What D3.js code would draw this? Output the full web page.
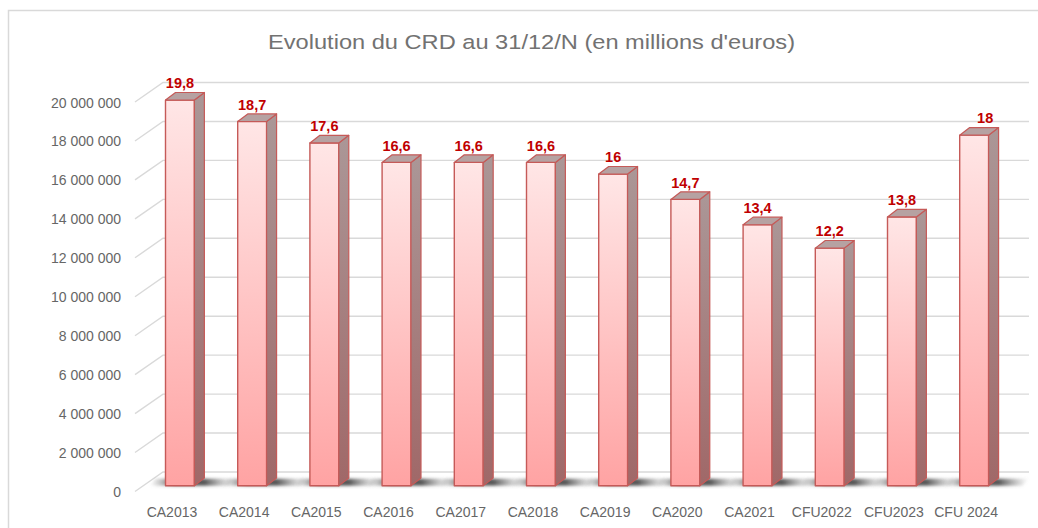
<!DOCTYPE html>
<html>
<head>
<meta charset="utf-8">
<script src="https://cdn.jsdelivr.net/npm/d3@7"></script>
<style>
  html, body { margin: 0; padding: 0; background: #ffffff; }
  svg { display: block; font-family: "Liberation Sans", Arial, sans-serif; }
</style>
</head>
<body>
<svg id="chart" width="1038" height="528"></svg>
<script>
// ---- Data ----
const categories = ["CA2013", "CA2014", "CA2015", "CA2016", "CA2017", "CA2018", "CA2019", "CA2020", "CA2021", "CFU2022", "CFU2023", "CFU 2024"];
const values = [19800000, 18700000, 17600000, 16600000, 16600000, 16600000, 16000000, 14700000, 13400000, 12200000, 13800000, 18000000];
const yTickValues = [0, 2000000, 4000000, 6000000, 8000000, 10000000, 12000000, 14000000, 16000000, 18000000, 20000000];
const titleText = "Evolution du CRD au 31/12/N (en millions d'euros)";

// ---- Setup ----
const W = 1038, H = 528;
const svg = d3.select("#chart");
const fr = d3.formatLocale({ decimal: ",", thousands: "\u00a0", grouping: [3], currency: ["", " €"] });
const fmtTick = fr.format(",.0f");
const fmtLabel = fr.format(".1~f");

// frame
svg.append("rect")
  .attr("x", 8.5).attr("y", 10.5)
  .attr("width", W + 10).attr("height", H + 10)
  .attr("fill", "none").attr("stroke", "#d9d9d9").attr("stroke-width", 1.5);

// title
svg.append("text")
  .attr("x", 531.5).attr("y", 49)
  .attr("text-anchor", "middle")
  .attr("font-size", 20.5)
  .attr("fill", "#727272")
  .attr("textLength", 527).attr("lengthAdjust", "spacingAndGlyphs")
  .text(titleText);

// scales
const y = d3.scaleLinear().domain([0, 20000000]).range([491.5, 102]);
const x = d3.scaleBand().domain(categories).range([143.84, 1010.24]).paddingInner(0.6).paddingOuter(0.3);

// 3D geometry
const wallDX = 28, wallDY = -19.5;   // front plane -> back wall
const barOffY = -5.8;               // bar front face relative to front plane
const depthDX = 10, depthDY = -7.6;  // bar depth
const frontX = 135, wallRight = 1029;

const defs = svg.append("defs");
const gFront = defs.append("linearGradient").attr("id", "gFront").attr("x1", 0).attr("y1", 0).attr("x2", 0).attr("y2", 1);
gFront.append("stop").attr("offset", "0%").attr("stop-color", "#ffe6e6");
gFront.append("stop").attr("offset", "100%").attr("stop-color", "#ffa3a3");
const gSide = defs.append("linearGradient").attr("id", "gSide").attr("x1", 0).attr("y1", 0).attr("x2", 0).attr("y2", 1);
gSide.append("stop").attr("offset", "0%").attr("stop-color", "#ab9797");
gSide.append("stop").attr("offset", "100%").attr("stop-color", "#a06868");
const gShadow = defs.append("linearGradient").attr("id", "gShadow").attr("x1", 0).attr("y1", 0).attr("x2", 1).attr("y2", 0);
gShadow.append("stop").attr("offset", "0%").attr("stop-color", "#808080").attr("stop-opacity", 0);
gShadow.append("stop").attr("offset", "30%").attr("stop-color", "#454545").attr("stop-opacity", 0.9);
gShadow.append("stop").attr("offset", "65%").attr("stop-color", "#454545").attr("stop-opacity", 0.9);
gShadow.append("stop").attr("offset", "100%").attr("stop-color", "#808080").attr("stop-opacity", 0);
const blur = defs.append("filter").attr("id", "blur").attr("x", "-20%").attr("y", "-50%").attr("width", "140%").attr("height", "200%");
blur.append("feGaussianBlur").attr("stdDeviation", 1.5);

// gridlines (side diagonals + back wall)
const grid = svg.append("g").attr("stroke", "#d9d9d9").attr("stroke-width", 1.4).attr("fill", "none");
grid.selectAll("path").data(yTickValues).join("path")
  .attr("d", v => {
    const yf = y(v), yb = y(v) + wallDY;
    return `M${frontX},${yf}L${frontX + wallDX},${yb}L${wallRight},${yb}`;
  });

// y tick labels via axis
const yAxis = svg.append("g")
  .attr("transform", "translate(121,0)")
  .call(d3.axisLeft(y).tickValues(yTickValues).tickSize(0).tickPadding(0).tickFormat(fmtTick));
yAxis.select(".domain").remove();
yAxis.selectAll("text")
  .attr("font-family", "Liberation Sans, Arial, sans-serif")
  .attr("font-size", 14).attr("fill", "#666666").attr("dy", "0.36em");

// floor shadows
const bw = x.bandwidth();
const y0 = y(0) + barOffY;
svg.append("g").selectAll("path").data(categories).join("path")
  .attr("d", c => {
    const xl = x(c) - 16, xr = x(c) + bw + 34;
    return `M${xl},${y0}L${xr},${y0}L${xr + 6},${y0 - 7}L${xl + 6},${y0 - 7}Z`;
  })
  .attr("fill", "url(#gShadow)")
  .attr("filter", "url(#blur)");

// bars
const bars = svg.append("g").selectAll("g").data(categories.map((c, i) => ({ c, v: values[i] }))).join("g");
const stroke = "#c55a58";
bars.append("path") // front
  .attr("d", d => {
    const xl = x(d.c), xr = xl + bw, yt = y(d.v) + barOffY;
    return `M${xl},${yt}L${xr},${yt}L${xr},${y0}L${xl},${y0}Z`;
  })
  .attr("fill", "url(#gFront)").attr("stroke", stroke).attr("stroke-width", 1.4).attr("stroke-linejoin", "round");
bars.append("path") // side
  .attr("d", d => {
    const xr = x(d.c) + bw, yt = y(d.v) + barOffY;
    return `M${xr},${yt}L${xr + depthDX},${yt + depthDY}L${xr + depthDX},${y0 + depthDY}L${xr},${y0}Z`;
  })
  .attr("fill", "url(#gSide)").attr("stroke", stroke).attr("stroke-width", 1.2).attr("stroke-linejoin", "round");
bars.append("path") // top
  .attr("d", d => {
    const xl = x(d.c), xr = xl + bw, yt = y(d.v) + barOffY;
    return `M${xl},${yt}L${xl + depthDX},${yt + depthDY}L${xr + depthDX},${yt + depthDY}L${xr},${yt}Z`;
  })
  .attr("fill", "#b6a2a2").attr("stroke", stroke).attr("stroke-width", 1.2).attr("stroke-linejoin", "round");

// data labels
bars.append("text")
  .attr("x", (d, i) => x(d.c) + bw / 2 + (i === categories.length - 1 ? 11 : 0))
  .attr("y", d => y(d.v) + barOffY - 11.8)
  .attr("text-anchor", "middle")
  .attr("font-size", 14.5).attr("font-weight", "bold").attr("fill", "#c00000")
  .text(d => fmtLabel(d.v / 1e6));

// x axis labels
const xAxis = svg.append("g")
  .attr("transform", "translate(-8,517)")
  .call(d3.axisBottom(x).tickSize(0).tickPadding(0));
xAxis.select(".domain").remove();
xAxis.selectAll("text")
  .attr("font-family", "Liberation Sans, Arial, sans-serif")
  .attr("font-size", 14).attr("fill", "#666666").attr("dy", 0);
</script>
</body>
</html>
